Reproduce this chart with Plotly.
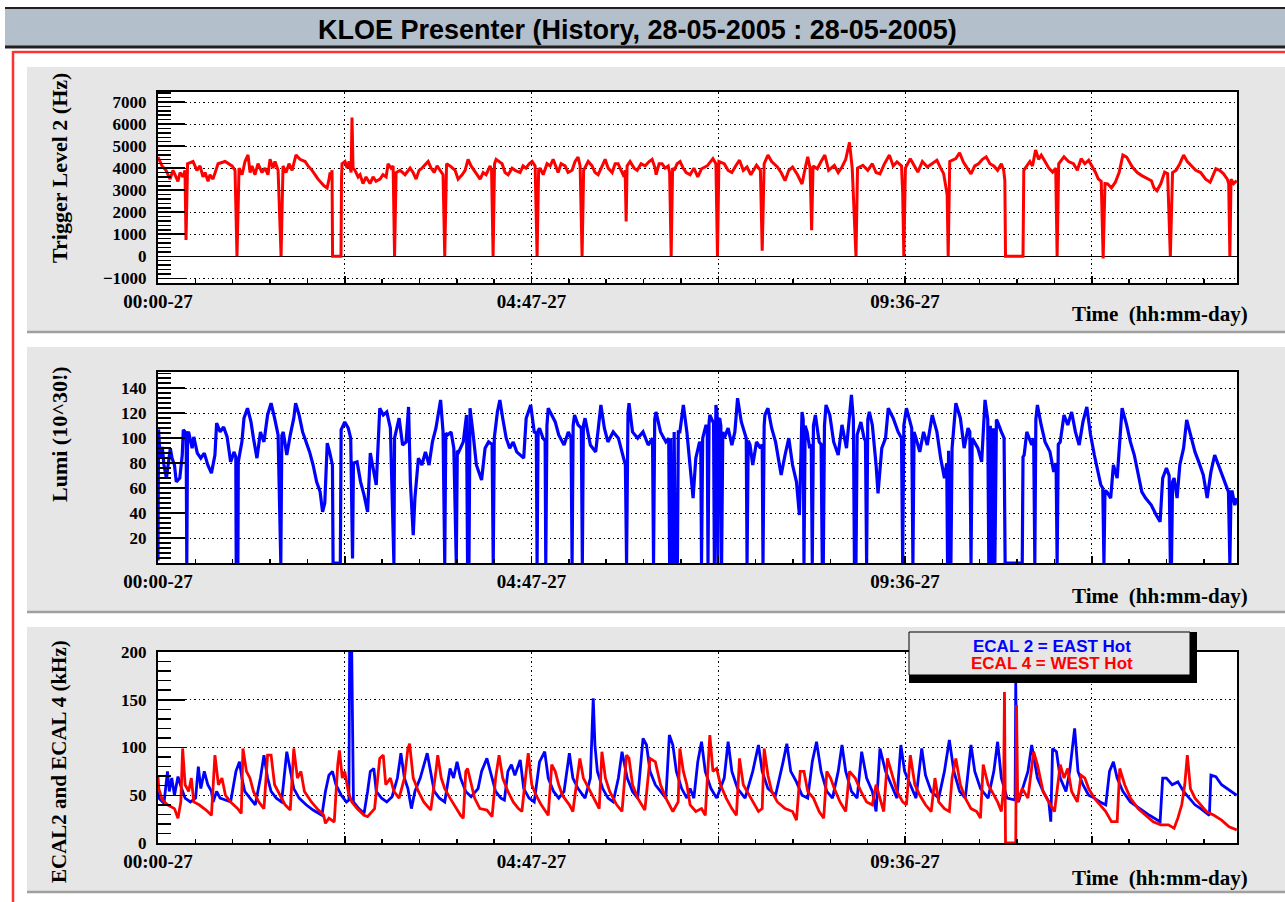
import plotly.graph_objects as go

W, H = 1285, 902

# ---------------- data (time in minutes since 00:00 of day 27) ----------------
x_tickvals = [0, 144, 288, 432, 576, 720]
x_ticktext = ["00:00-27", "", "04:47-27", "", "09:36-27", ""]
lumi_tickvals = [20, 40, 60, 80, 100, 120, 140]

trigger_l2 = [
    (0,4500),(3.1,4100),(6.2,3900),(9.3,3500),(11.6,3900),(13.1,3700),(15.4,3400),(17,3800),(19.3,3600),(20.8,3900),
    (21.6,740),(22.8,4200),(27,4300),(30,3900),(32.4,4100),(34.7,3600),(36.3,3800),(38.6,3400),(40.1,3700),(42.4,3500),
    (44,3800),(46.3,4200),(51.7,4300),(57.1,4100),(59.4,3900),(60.9,0),(62.5,4000),(64.8,3700),(67.1,4300),(69.4,4600),
    (71,3800),(72.5,4100),(74.8,3700),(77.1,4200),(80.2,3800),(82.5,4000),(84.8,3700),(86.4,4400),(88.7,4000),(90.2,4300),
    (92.6,3900),(94.9,0),(96.4,4100),(98.7,3800),(101,4200),(103.4,3900),(106.4,4600),(109.5,4400),(113.4,4300),(115.7,4100),
    (118.8,3900),(123.4,3500),(128,3200),(130.4,3100),(131.9,3500),(132.7,3800),(133.4,3600),(134.2,3900),(134.6,0),(141.1,0),
    (141.5,3500),(141.9,4200),(144.2,4300),(145.8,4000),(147.3,4300),(148.9,3800),(149.6,6300),(150.4,4000),(151.9,3900),(154.3,3600),
    (155.8,3700),(158.1,3300),(160.4,3600),(163.5,3300),(165.8,3600),(168.1,3400),(171.2,3500),(173.5,3700),(175.9,3600),(177.4,4200),
    (179.7,4000),(181.3,4100),(182.4,0),(183.6,3800),(186.7,3900),(190.5,3700),(194.4,4000),(196.7,3800),(199,3500),(201.3,3900),
    (203.6,4000),(208.3,4300),(210.6,4000),(212.9,3800),(215.2,4100),(217.5,3900),(219.8,3700),(221.1,0),(222.5,4200),(225.2,4100),
    (229.1,3900),(231.4,3500),(234.5,3700),(236.8,3900),(239.1,4400),(241.4,4100),(243.7,3900),(246,3700),(248.4,3500),(250.7,3800),
    (253,3700),(256.1,4100),(257.2,3900),(258.4,0),(259.5,4200),(260.7,4400),(265.3,4200),(267.6,3800),(270,3700),(273,4000),
    (275.4,3900),(279.2,3800),(281.5,4100),(283.8,4000),(286.2,4200),(288.5,4300),(290.8,4100),(292.3,0),(293.5,3900),(294.6,4000),
    (297,3700),(300,4200),(302.4,4100),(304.7,4400),(307,4000),(308.5,3800),(310.8,4200),(313.9,4100),(316.2,3800),(319.3,3900),
    (321.6,4300),(323.9,4500),(325.5,4100),(327,0),(328.2,3900),(331.7,4300),(334.7,4100),(337,3800),(339.4,3700),(342.5,4100),
    (344.8,4400),(347.1,4000),(350.2,3800),(352.5,4200),(354.8,4200),(357.1,3900),(359.4,3600),(360.2,3900),(361,1580),(361.7,4100),
    (364,4300),(367.1,4000),(369.5,3900),(372.5,4200),(375.6,4100),(378.7,4300),(381,4400),(383.3,4000),(384.1,3700),(386.4,4200),
    (388.7,4200),(391,4000),(393.4,4100),(394.5,3800),(395.7,0),(396.8,4000),(398,3900),(400.3,4200),(402.6,4300),(404.9,4000),
    (407.3,3800),(410.3,3700),(413.2,4000),(416.2,3600),(419.1,3970),(423.5,4100),(427.9,4430),(430.2,4200),(431.4,0),(432.5,4300),
    (436.6,4200),(439.6,3900),(442.5,3800),(445.4,4100),(448.4,4360),(451.3,3900),(454.2,4050),(457.1,3700),(461.5,4130),(464.5,3900),
    (465.9,250),(467.4,4200),(470.3,4590),(473.2,4300),(477.6,4050),(480.5,3800),(483.5,3430),(486.4,3900),(489.3,4050),(493.1,3700),
    (496.6,3280),(498.7,3900),(501,4510),(502.8,4000),(504,1180),(505.1,4100),(508.4,3970),(511.3,4300),(514.2,4590),(517.1,3900),
    (521.5,4130),(524.5,3800),(527.4,4050),(530.3,4400),(533.2,5170),(535.3,4000),(537,1700),(538.2,0),(539.4,4000),(543.5,4130),
    (547.3,3900),(550.8,4200),(553.7,3800),(556.7,3740),(560.2,4200),(564,4590),(566.9,4100),(569.8,4280),(573.3,4100),(574.2,2900),
    (575.1,0),(576.3,4000),(580.1,4430),(583,4100),(585.9,3820),(589.4,4300),(593.2,4050),(596.8,4200),(600.6,4360),(603.5,4000),
    (605.8,3750),(608.5,2800),(609.3,0),(610.5,4300),(615.2,4430),(618.1,4700),(621,4280),(624,4000),(626.9,3740),(629.8,4100),
    (632.7,4200),(635.7,4400),(638.6,4510),(641.5,4200),(644.5,4100),(647.4,3900),(650.3,4200),(652.1,3900),(653,3430),(653.5,0),
    (667,0),(667.6,3900),(669.3,4050),(672.3,4300),(674.3,4100),(676.7,4820),(679,4400),(681.1,4590),(684,4300),(686.9,4000),
    (689.8,3820),(692.2,4000),(693.3,0),(694.5,4200),(698.6,4510),(702.1,4300),(705.9,4200),(708.9,3900),(711.8,4430),(714.7,4200),
    (717.6,4360),(720.6,4050),(722.9,3800),(725,3510),(727.3,3400),(728.8,-100),(730.2,3300),(732.3,3280),(735.2,3100),(738.1,3350),
    (741.1,3800),(744,4590),(746.9,4500),(751.3,4050),(755.1,3800),(758.6,3660),(762.4,3550),(766,3430),(768,3100),(770.3,2970),
    (773.3,3300),(776.2,3820),(778.5,3750),(780.6,0),(782.3,3800),(785,3900),(787.9,4200),(790.8,4590),(793.7,4300),(796.7,4130),
    (800.2,3900),(804,3800),(807.8,3500),(811.3,3360),(815.7,3970),(818.6,3900),(821.5,3750),(824.5,3500),(825.6,3300),(826.5,0),
    (827.4,3500),(829.4,3300),(831.8,3430),
]

luminosity = [
    (0,2),(0.4,107),(1.1,94.5),(1.9,85),(3.3,93),(4.6,78.5),(6.5,68),(7.9,81),(9.5,92),(10.8,84),
    (12.7,78.5),(14.1,65),(16.8,68),(18.7,86.5),(19.5,106.6),(21.7,104),(22.2,0),(22.8,104),(23.6,105),(26.3,92),
    (27.6,101),(30.3,88),(33,84),(35.7,88),(38.4,78.5),(41.2,72),(43.9,86.5),(45.2,112),(47.9,105),(50.6,109),
    (53.3,101),(56,81),(58.7,89),(60,85),(60.3,0),(61.6,0),(61.9,81),(64.7,97),(66.3,116),(69,124),
    (71.7,113),(73.6,100),(76.3,84),(79,105),(81.7,97),(84.5,118.6),(87.2,128),(89.9,116),(92.6,102.6),(94.7,0),
    (95.5,102),(96.6,105),(99.3,86.5),(102,102.6),(104.7,116),(106.1,128),(108.8,118.6),(111.5,105),(114.2,97),(116.9,89),
    (119.6,78.5),(122.3,65),(125,57),(126.9,41),(128.6,48),(130.5,96),(132.3,89),(134.5,78.5),(135,0),(140.6,0),
    (141.2,106.6),(144,113),(146.7,108),(148.6,100),(150,3.6),(150.7,80),(153.5,81),(156.2,65),(158.9,54.4),(161.6,41),
    (163.7,88),(165.6,78.5),(168.3,62.5),(171,124),(173.7,118.6),(176.4,121),(179.2,108),(181.9,0),(182.4,100),(185.9,116),
    (188.6,94.5),(191.3,97),(193.2,125),(194.6,65),(196.8,22.3),(198.1,52),(200.8,84),(203.5,78.5),(206.2,89),(209,78.5),
    (211.6,97),(214.3,108),(215.7,116),(217.9,130.6),(219.8,105),(221.1,0),(221.9,104),(223.3,102.6),(226,105),(228.1,92),
    (230,0),(230.8,90),(231.9,89),(235.4,97),(237.9,118.6),(238.7,0),(239.8,0),(240.6,124),(242.8,105),(245.5,78.5),
    (249.5,66.5),(252.2,92),(254.9,97),(257.6,95),(258.5,0),(259.3,100),(261.7,121),(263.6,130.6),(265.8,116),(268.5,100),
    (271.2,92),(273.9,97),(276.6,89),(279.3,86.5),(282,84),(283.9,116),(287.4,126.6),(290.1,105),(291.7,104),(292.3,0),
    (293.1,106),(294.2,108),(296.9,100),(298.5,98),(299,0),(299.9,110),(300.9,124),(303.6,118.6),(306.3,113),(309,102.6),
    (313.1,94.5),(316.4,105),(318.5,100),(319.3,0),(320.1,110),(321.2,118.6),(323.9,110.6),(326.4,108),(327.2,0),(328,110),
    (329.3,116),(333.4,94.5),(337.5,89),(341.5,126.6),(344.2,108),(346.9,97),(351,105),(355,100),(357.8,89),(360.4,78.5),
    (361.3,0),(362.4,120),(363.2,128),(365.9,105),(369.9,100),(374,105),(378,94.5),(381.3,100),(382.1,0),(383,115),
    (384,121),(387.5,105),(391.6,97),(393.8,100),(394.5,0),(395.3,100),(396,0),(397.3,0),(398,105),(398.8,0),
    (400.5,0),(401.2,105),(402.4,105),(405.1,126.6),(407.8,105),(410.3,80),(412.6,52),(414.7,84),(417.6,97),(418.5,95),
    (419.1,0),(420,100),(420.5,102.6),(422.6,110.6),(423.5,108),(424.1,0),(424.9,112),(425.5,118.6),(427.9,113),(428.4,112),
    (429,0),(429.6,118),(430.2,126.6),(431.1,120),(431.7,0),(432.3,115),(433.1,116),(434,110),(434.6,0),(435.5,105),
    (436.6,100),(439.6,108),(442.5,94.5),(444.8,105),(446.9,132),(449.8,113),(452.7,102.6),(453.6,100),(454.2,0),(455.1,98),
    (456.5,94.5),(458.6,78.5),(461.5,97),(464.5,92),(465.9,95),(466.5,0),(467.4,110),(468,118.6),(470.3,124),(473.2,108),
    (476.2,97),(480.5,70.5),(483.5,86.5),(486.4,100),(489.3,78.5),(492.3,65),(494.6,38.4),(496.6,121),(497.5,115),(498.1,0),
    (499,110),(500.5,105),(502.5,92),(503.7,95),(504.5,0),(505.4,110),(506.9,118.6),(509.8,97),(511.3,95),(512.2,0),
    (513,0),(513.9,110),(515.1,126.6),(518,118.6),(521,97),(524.5,86.5),(527.4,110.6),(530.9,92),(534.7,134.7),(536.2,115),
    (537,0),(538.2,0),(539.1,102.6),(542,113),(544.4,100),(545.5,98),(546.4,0),(547.3,115),(548.5,121),(550.8,110.6),
    (553.7,78.5),(555.2,55.8),(558.1,92),(561,100),(563.1,124),(566.9,116),(570.7,105),(573.3,100),(574.2,0),(575.1,110),
    (577.1,124),(580.1,110.6),(581.2,108),(582.1,0),(583,105),(584.5,100),(587.4,89),(590.3,105),(593.2,94.5),(597,118.6),
    (600.6,105),(603.5,84),(606.4,68),(608.2,80),(608.8,0),(609.6,90),(610.5,0),(611.4,0),(612.3,92),(615.2,128),
    (618.7,116),(621.6,92),(624.6,108),(626,105),(626.9,0),(627.8,100),(629.2,97),(632.2,92),(635.1,81),(637.7,130.6),
    (639.8,115),(640.6,0),(641.8,110),(643,0),(644.2,108),(645.3,0),(646.5,115),(647.4,113),(650.3,105),(652.4,100),
    (653.2,0),(666.4,0),(667,85),(667.9,86.5),(669.9,105),(673.7,94.5),(675.2,100),(676.1,0),(676.9,115),(678.1,126.6),
    (681,110.6),(684,97),(687.8,89),(690.7,73),(692.5,80),(693.3,0),(694.2,95),(695.7,97),(698.6,118.6),(701.5,110.6),
    (704.5,121),(707.4,105),(710.3,94.5),(713.2,113),(716.2,125),(719.1,102.6),(722,86.5),(725,73),(727,62.5),(728.5,60),
    (729.4,0),(730.2,58),(731.7,57),(734.6,52),(736.7,78.5),(739.6,68),(743.4,124),(746.9,110.6),(749.8,97),(752.8,86.5),
    (755.7,73),(758.6,57),(761.5,52),(765.9,46.4),(769.7,38.4),(772.7,33),(774.7,68),(777.6,76),(779.7,70),(780.6,0),
    (781.5,0),(782.3,65),(783.5,68),(785.8,52),(787.9,78.5),(790.8,92),(793.2,114.6),(796.1,102.6),(799.6,89),(802.5,81),
    (806,70.5),(809,52),(811.9,73),(814.8,86.5),(818.6,76),(823,65),(825.4,57),(826.5,0),(827.4,57),(828.3,57),
    (830.3,46.4),(831.8,52),
]

ecal4_west = [
    (0,69.5),(0.6,57),(3.3,45),(7.3,40),(12.7,36),(15.4,26),(17.6,43),(19,99),(20.9,61),(23.6,54),
    (25.7,68),(27.6,43),(31.7,40),(37.1,34.5),(41.2,29),(43.9,92),(46.6,61),(49.3,68),(52,50),(56,43),
    (61.5,36),(64.2,31),(65.5,99),(68.2,75),(70.9,68),(73.6,54),(77.7,43),(81.7,36),(84.5,92),(87.2,92),
    (89.9,61),(93.9,50),(98,40),(102,34.5),(104.7,99),(107.5,68),(110.2,75),(112.9,54),(118.3,43),(123.7,34.5),
    (127.7,29),(129.1,20.6),(131.8,26),(135.9,22),(138.6,82),(139.9,97),(142.1,68),(144,75),(146.7,54),(149.4,43),
    (153.5,36),(158.9,29),(161.6,27.6),(167,36),(171,88.6),(173.7,92),(175.6,61),(179.2,68),(181.9,54),(185.9,47),
    (190,68),(192.7,99),(194,104),(196.8,68),(200.8,54),(204.9,43),(210.3,34.5),(214.3,75),(215.7,92),(218.4,68),
    (221.1,57),(225.2,47),(229.2,38),(233.3,29),(235.4,26),(237.3,75),(238.7,78),(241.4,61),(244.1,47),(248.2,36),
    (253.6,34.5),(257.6,27.6),(260.3,68),(263,92),(265.8,68),(269.8,54),(273.9,43),(277.9,36),(280.6,33),(283.9,75),
    (285.5,94),(288.2,61),(291.5,50),(295.5,40),(300.9,29),(303.6,82),(306.3,75),(309,61),(311.8,50),(317.2,40),
    (319.9,33),(322.6,61),(325.3,88.6),(328,68),(332.1,57),(336.1,47),(340.2,36),(342.3,95.6),(345,68),(348.3,54),
    (353.7,40),(357.8,33),(361.3,92),(363.2,88.6),(365.9,61),(369.9,47),(375.4,34.5),(379.4,88.6),(383.5,85),(387.5,61),
    (391.6,47),(397,33),(401.1,43),(402.4,99),(405.1,75),(407.8,61),(410.3,40),(414.7,33),(419.1,36),(422,29),
    (424.4,82),(425.5,113),(427.9,75),(430.8,78),(433.7,61),(438.1,47),(442.5,36),(446,29),(448.4,88.6),(451.3,61),
    (454.2,54),(458.6,43),(463,33),(465.9,36),(467.4,99),(470.3,71),(473.2,54),(477.6,43),(483.5,36),(489.3,33),
    (492.3,24),(495.2,75),(498.1,75),(501,54),(505.4,47),(509.8,33),(513.3,26),(515.7,75),(518.6,68),(521.5,57),
    (525.9,43),(530.3,33),(533.2,75),(537.6,68),(542,54),(546.4,43),(550.8,40),(553.7,61),(557.2,43),(559.6,33),
    (562.5,88.6),(565.4,75),(569.8,54),(574.2,43),(577.1,40),(580.1,92),(583.6,61),(587.4,50),(591.8,40),(596.2,33),
    (599.1,68),(602,43),(606.4,36),(610.2,33),(612.3,68),(615.2,88.6),(618.7,61),(622.5,47),(626.9,36),(631.3,33),
    (634.2,26),(636.3,82),(640.1,61),(643,54),(647.4,43),(650.3,33),(652.1,60),(652.7,158),(653.5,0),(661.4,0),
    (662,144.5),(662.9,43),(666.4,57),(670.8,47),(675.2,95.6),(678.1,82),(682.5,54),(686.9,43),(691.3,33),(695.7,82),
    (698.6,68),(701.5,78),(704.5,54),(708.9,43),(711.8,71),(714.7,68),(717.6,57),(722,47),(726.4,40),(730.8,33),
    (735.2,22.3),(739.6,22.3),(741.6,78),(745.4,61),(749.8,47),(755.7,36),(761.5,29),(767.4,22.3),(773.3,19),(779.1,19),
    (783.5,15.4),(786.4,26),(789.4,40),(791.7,61),(793.7,92),(796.1,57),(799.6,47),(804,40),(808.4,33),(814.2,29),
    (820.1,24),(825.9,17),(831.8,13.6),
]

ecal2_east = [
    (0,54),(0.6,47),(4.6,41.5),(7.3,75),(8.7,54),(10.6,68),(12.7,50),(15.4,69.5),(18.2,57),(20.9,47),
    (25,43),(29,47),(31.1,80),(33,57),(35.7,75),(38.4,61),(41.2,54),(42.5,43),(45.2,54),(47.9,47),
    (52,45),(56,43),(60.1,75),(62.8,85),(64.7,68),(66.9,54),(70.9,47),(75,40),(79,68),(81.7,92),
    (84.5,68),(87.2,54),(91.2,47),(95.3,43),(99.3,95.6),(102,75),(104.7,57),(108.8,47),(114.2,40),(119.6,34.5),
    (126.4,29),(129.1,54),(131.8,71),(134.5,75),(137.2,61),(141.3,50),(145.3,43),(147.2,45),(147.8,210),(149.3,210),
    (150.7,43),(154.8,36),(158.9,31),(161.6,54),(163.7,75),(166.4,78),(168.3,54),(172.4,47),(176.4,43),(180.5,48.5),
    (184.6,68),(187.3,94),(190,68),(192.7,57),(195.4,36),(198.1,54),(202.2,68),(207.6,94),(210.3,75),(213,54),
    (217,47),(221.1,43),(225.2,78),(227.9,68),(230.6,85),(233.3,68),(237.3,54),(241.4,48.5),(246.8,57),(249.5,75),
    (253.6,88.6),(256.3,75),(260.3,54),(264.4,47),(267.1,45),(269.8,75),(272.5,82),(275.2,71),(279.3,87),(282,57),
    (286.1,47),(290.1,43),(294.2,85),(298.2,95.6),(300.9,68),(305,54),(309,47),(313.1,54),(317.2,94),(319.9,68),
    (323.9,57),(329.3,47),(333.4,68),(335.6,151.5),(336.9,102.6),(338.8,75),(342.9,57),(347,47),(351,43),(355,68),
    (357.8,95.6),(361.8,68),(365.9,54),(369.9,47),(374,109.6),(376.7,102.6),(379.4,75),(383.5,61),(387.5,54),(391.6,47),
    (394.3,113),(397,102.6),(399.7,75),(403.8,57),(407.8,47),(410.3,57),(413.2,47),(416.2,85),(419.1,106),(422,75),
    (426.4,57),(430.8,47),(436.6,68),(439.6,106),(442.5,75),(446.9,57),(452.7,47),(458.6,75),(463,102.6),(465.9,75),
    (470.3,57),(476.2,50),(482,85),(484.9,104),(487.9,75),(492.3,64),(496.6,50),(501,47),(504.5,85),(507.8,106),
    (511.3,75),(515.7,54),(520.1,47),(524.5,75),(527.4,102.6),(530.3,75),(534.7,54),(539.1,47),(542.6,95.6),(546.4,68),
    (550.8,54),(553.7,33),(556.7,99),(561,75),(565.4,61),(569.8,47),(572.8,102.6),(575.7,75),(580.1,61),(584.5,47),
    (588.9,99),(591.8,71),(596.2,54),(602,47),(606.4,75),(610.2,108),(613.7,75),(618.1,54),(622.5,47),(626.9,102.6),
    (629.8,75),(634.2,57),(640.1,47),(644.5,75),(647.4,106),(650.3,68),(654.7,47),(659.1,45),(660.9,45),(661.4,168),
    (662.3,45),(663.5,43),(667.9,61),(670.8,75),(673.7,102.6),(678.1,68),(682.5,54),(686.9,43),(688.4,22.3),(689.8,99),
    (692.8,95.6),(695.7,68),(700.1,54),(703,75),(706.8,120),(709.4,75),(713.2,61),(717.6,50),(722,47),(726.4,43),
    (730.8,40),(733.7,75),(736.7,85),(739.6,68),(744,54),(749.8,43),(757.1,36),(764.5,29),(772.7,22.3),(774.7,68),
    (777.6,68),(782,61),(786.4,64),(790.8,54),(795.2,47),(799.6,40),(804,36),(808.4,31),(810.7,29),(811.9,71),
    (815.7,69.5),(820.1,61),(824.5,57),(827.9,54),(831.8,50),
]

# ---------------- helpers (layout geometry in page pixels) ----------------
def px(x):
    return x / W

def py(y):
    return 1 - y / H

def split(pairs):
    return [p[0] for p in pairs], [p[1] for p in pairs]

RED = "#ff0000"
BLUE = "#0000ff"
PANEL = "#e6e6e6"
SERIF = "Liberation Serif"
SANS = "Liberation Sans"

fig = go.Figure()

t, v = split(trigger_l2)
fig.add_trace(go.Scatter(x=t, y=v, xaxis="x", yaxis="y", mode="lines",
                         line=dict(color=RED, width=3), hoverinfo="skip"))
t, v = split(luminosity)
fig.add_trace(go.Scatter(x=t, y=v, xaxis="x2", yaxis="y2", mode="lines",
                         line=dict(color=BLUE, width=3.2), hoverinfo="skip"))
t, v = split(ecal2_east)
fig.add_trace(go.Scatter(x=t, y=v, xaxis="x3", yaxis="y3", mode="lines",
                         line=dict(color=BLUE, width=2.8), hoverinfo="skip"))
t, v = split(ecal4_west)
fig.add_trace(go.Scatter(x=t, y=v, xaxis="x3", yaxis="y3", mode="lines",
                         line=dict(color=RED, width=2.8), hoverinfo="skip"))

# plot-area pixel boxes: (top, bottom)
X0, X1 = 158, 1237
PANELS = [(92, 283), (372, 563), (652, 843)]

def xaxis(anchor, top, bottom):
    return dict(
        domain=[px(X0), px(X1)], anchor=anchor, range=[0, 832], automargin=False,
        tickmode="array", tickvals=x_tickvals, ticktext=x_ticktext,
        ticks="inside", ticklen=7, tickwidth=1.5, tickcolor="black",
        showline=True, linecolor="black", linewidth=2, mirror=True,
        showgrid=True, gridcolor="black", gridwidth=1, griddash="1.5px,3px",
        zeroline=False,
        tickfont=dict(family=SERIF, size=19, color="black", weight="bold"),
        minor=dict(ticks="inside", ticklen=4, tickwidth=1.5, tickcolor="black",
                   tickmode="linear", tick0=0, dtick=28.8, showgrid=False),
        fixedrange=True,
    )

def yaxis(anchor, top, bottom, rng, **kw):
    d = dict(
        domain=[py(bottom), py(top)], anchor=anchor, range=rng, automargin=False,
        ticks="inside", ticklen=27, tickwidth=1.5, tickcolor="black",
        showline=True, linecolor="black", linewidth=2, mirror=True,
        showgrid=True, gridcolor="black", gridwidth=1, griddash="1.5px,3px",
        zeroline=False, ticklabelstandoff=6,
        tickfont=dict(family=SERIF, size=17, color="black", weight="bold"),
        fixedrange=True,
    )
    d.update(kw)
    return d

layout = dict(
    width=W, height=H, margin=dict(l=0, r=0, t=0, b=0, pad=0, autoexpand=False),
    paper_bgcolor="white", plot_bgcolor="rgba(0,0,0,0)",
    showlegend=False,
    xaxis=xaxis("y", *PANELS[0]),
    xaxis2=xaxis("y2", *PANELS[1]),
    xaxis3=xaxis("y3", *PANELS[2]),
    yaxis=yaxis("x", *PANELS[0], [-1214, 7455], tickmode="linear", tick0=0, dtick=1000,
                zeroline=True, zerolinecolor="black", zerolinewidth=1.5,
                minor=dict(ticks="inside", ticklen=13, tickwidth=1.5, tickcolor="black",
                           tickmode="linear", tick0=0, dtick=200, showgrid=False)),
    yaxis2=yaxis("x2", *PANELS[1], [0, 153], tickmode="array", tickvals=lumi_tickvals,
                 minor=dict(ticks="inside", ticklen=13, tickwidth=1.5, tickcolor="black",
                            tickmode="linear", tick0=0, dtick=4, showgrid=False)),
    yaxis3=yaxis("x3", *PANELS[2], [0, 200], tickmode="linear", tick0=0, dtick=50,
                 minor=dict(ticks="inside", ticklen=13, tickwidth=1.5, tickcolor="black",
                            tickmode="linear", tick0=0, dtick=10, showgrid=False)),
)

shapes = []
def rect(x0, y0, x1, y1, fill, line_color=None, lw=0, layer="below"):
    shapes.append(dict(type="rect", xref="paper", yref="paper",
                       x0=px(x0), x1=px(x1), y0=py(y1), y1=py(y0),
                       fillcolor=fill, layer=layer,
                       line=dict(color=line_color or fill, width=lw)))

def hline(x0, x1, y, color, w, layer="below"):
    shapes.append(dict(type="line", xref="paper", yref="paper",
                       x0=px(x0), x1=px(x1), y0=py(y), y1=py(y), layer=layer,
                       line=dict(color=color, width=w)))

def vline(x, y0, y1, color, w, layer="below"):
    shapes.append(dict(type="line", xref="paper", yref="paper",
                       x0=px(x), x1=px(x), y0=py(y0), y1=py(y1), layer=layer,
                       line=dict(color=color, width=w)))

# title bar
rect(5, 8, 1285, 47, "#b3bfca")
hline(5, 1285, 8, "#202020", 2)
hline(5, 1285, 47, "#202020", 3)
# red frame
hline(13, 1285, 52, "#ff3030", 2.5)
vline(13, 51, 902, "#ff3030", 2.5)
# panels
for (ptop, pbot), (gtop, gbot) in zip(PANELS, [(67, 331), (347, 611), (627, 891)]):
    rect(27, gtop, 1285, gbot, PANEL)
    hline(27, 1285, gbot + 1, "#a0a0a0", 2.5)
    rect(X0, ptop, X1, pbot, "white")

# legend box (drawn over the data)
rect(909, 632, 1197, 683, "black", layer="above")
rect(909, 632, 1190, 675, PANEL, "black", 1, layer="above")

layout["shapes"] = shapes

ann = []
def text(x, y, s, size, family, color="black", angle=0, xanchor="center", yanchor="middle"):
    ann.append(dict(xref="paper", yref="paper", x=px(x), y=py(y), text=s, showarrow=False,
                    textangle=angle, xanchor=xanchor, yanchor=yanchor,
                    font=dict(family=family, size=size, color=color, weight="bold")))

text(637, 30, "KLOE Presenter (History, 28-05-2005 : 28-05-2005)", 27, SANS)
text(59, 168, "Trigger Level 2 (Hz)", 22, SERIF, angle=-90)
text(59, 434, "Lumi (10^30!)", 22, SERIF, angle=-90)
text(59, 762, "ECAL2 and ECAL 4 (kHz)", 21, SERIF, angle=-90)
for yy in (314, 596, 878):
    text(1250, yy, "Time&nbsp;&nbsp;(hh:mm-day)", 21, SERIF, xanchor="right")
text(1052, 646, "ECAL 2 = EAST Hot", 17, SANS, color=BLUE)
text(1052, 663, "ECAL 4 = WEST Hot", 17, SANS, color=RED)
layout["annotations"] = ann

fig.update_layout(**layout)
fig.write_html("out.html", config={"displayModeBar": False, "staticPlot": True})
